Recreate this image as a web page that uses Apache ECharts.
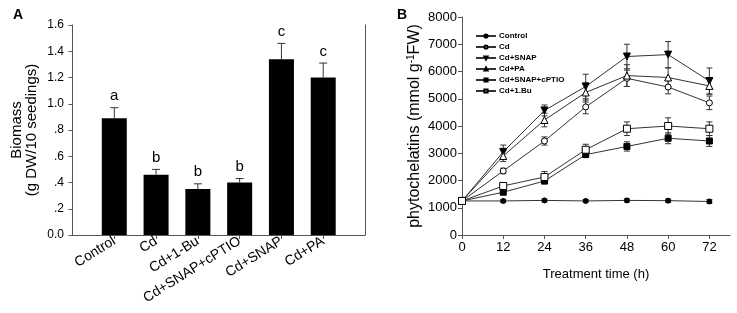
<!DOCTYPE html>
<html>
<head>
<meta charset="utf-8">
<script src="https://cdn.jsdelivr.net/npm/echarts@6/dist/echarts.min.js"></script>
<style>
  html, body { margin: 0; padding: 0; background: #fff; }
  #main { width: 737px; height: 313px; }
</style>
</head>
<body>
<div id="main"></div>
<script>
// Panel A - biomass
const treatments = ['Control', 'Cd', 'Cd+1-Bu', 'Cd+SNAP+cPTIO', 'Cd+SNAP', 'Cd+PA'];
const biomass = [0.89, 0.46, 0.35, 0.40, 1.34, 1.20];
const biomassErr = [0.08, 0.04, 0.04, 0.03, 0.12, 0.11];
const sigLetters = ['a', 'b', 'b', 'b', 'c', 'c'];

// Panel B - phytochelatins over time
const timesB = [0, 12, 24, 36, 48, 60, 72];
const pcControl = [1250, 1250, 1270, 1250, 1270, 1260, 1230];
const pcControlErr = [40, 50, 50, 50, 60, 60, 70];
const pcCd = [1250, 2350, 3450, 4700, 5750, 5430, 4850];
const pcCdErr = [40, 100, 150, 250, 300, 250, 250];
const pcSnap = [1250, 3050, 4570, 5450, 6550, 6620, 5650];
const pcSnapErr = [40, 250, 200, 450, 450, 480, 480];
const pcPa = [1250, 2900, 4220, 5230, 5850, 5780, 5470];
const pcPaErr = [40, 200, 250, 350, 400, 350, 300];
const pcCptio = [1250, 1570, 1980, 2950, 3250, 3550, 3450];
const pcCptioErr = [40, 80, 100, 100, 170, 200, 200];
const pcBu = [1250, 1800, 2130, 3130, 3900, 4000, 3900];
const pcBuErr = [40, 80, 200, 200, 250, 300, 250];

const FONT = 'Liberation Sans, Arial, sans-serif';
const AXIS = '#555';

const chart = echarts.init(document.getElementById('main'));

function fmtA(v) {
  if (v === 0) return '0.0';
  const s = v.toFixed(1);
  return v < 1 ? s.replace(/^0/, '') : s;
}

// error bar drawn as custom series, both = caps top and bottom
function errorSeries(xIdx, yIdx, xs, ys, errs, capW, both) {
  return {
    type: 'custom',
    xAxisIndex: xIdx,
    yAxisIndex: yIdx,
    z: 3,
    silent: true,
    data: xs.map((x, i) => [x, ys[i], errs[i]]),
    renderItem: function (params, api) {
      const x = api.value(0), y = api.value(1), e = api.value(2);
      const top = api.coord([x, y + e]);
      const bot = api.coord([x, both ? y - e : y]);
      const st = { stroke: '#333', lineWidth: 1 };
      const kids = [
        { type: 'line', shape: { x1: top[0], y1: top[1], x2: bot[0], y2: bot[1] }, style: st },
        { type: 'line', shape: { x1: top[0] - capW, y1: top[1], x2: top[0] + capW, y2: top[1] }, style: st }
      ];
      if (both) {
        kids.push({ type: 'line', shape: { x1: bot[0] - capW, y1: bot[1], x2: bot[0] + capW, y2: bot[1] }, style: st });
      }
      return { type: 'group', children: kids };
    }
  };
}

function lineSeries(name, vals, symbol, size, filled, rotate) {
  return {
    name: name,
    type: 'line',
    xAxisIndex: 1,
    yAxisIndex: 2,
    z: 4,
    data: timesB.map((t, i) => [t, vals[i]]),
    symbol: symbol,
    symbolSize: size,
    symbolRotate: rotate || 0,
    showAllSymbol: true,
    lineStyle: { color: '#333', width: 1 },
    itemStyle: filled
      ? { color: '#000', borderColor: '#000', borderWidth: 1 }
      : { color: '#fff', borderColor: '#000', borderWidth: 1 },
    emphasis: { disabled: true }
  };
}

const barXs = treatments.map((_, i) => i + 1);

const option = {
  animation: false,
  backgroundColor: '#fff',
  textStyle: { fontFamily: FONT, color: '#000' },
  title: [
    { text: 'A', left: 8, top: 3, textStyle: { fontFamily: FONT, fontSize: 14, fontWeight: 'bold', color: '#000' } },
    { text: 'B', left: 392, top: 3, textStyle: { fontFamily: FONT, fontSize: 14, fontWeight: 'bold', color: '#000' } }
  ],
  grid: [
    { left: 70, top: 25, width: 295, height: 210 },
    { left: 462, top: 17, width: 268, height: 218 }
  ],
  legend: {
    orient: 'vertical',
    left: 470,
    top: 27,
    itemWidth: 20,
    itemHeight: 4,
    itemGap: 3,
    padding: [5, 6, 8, 5],
    backgroundColor: '#fff',
    data: ['Control', 'Cd', 'Cd+SNAP', 'Cd+PA', 'Cd+SNAP+cPTIO', 'Cd+1.Bu'],
    textStyle: { fontFamily: FONT, fontSize: 8, fontWeight: 'bold', color: '#000', lineHeight: 8, padding: [0, 0, 0, -2] }
  },
  xAxis: [
    {
      gridIndex: 0,
      type: 'value',
      min: -0.06,
      max: 7,
      splitLine: { show: false },
      axisLine: { lineStyle: { color: AXIS } },
      axisTick: { length: 4, lineStyle: { color: AXIS }, customValues: barXs },
      axisLabel: {
        customValues: barXs,
        rotate: 32,
        fontSize: 14,
        color: '#000',
        fontFamily: FONT,
        margin: 5,
        formatter: v => treatments[v - 1] || ''
      }
    },
    {
      gridIndex: 1,
      type: 'value',
      min: 0,
      max: 78,
      interval: 12,
      splitLine: { show: false },
      axisLine: { lineStyle: { color: AXIS } },
      axisTick: { length: 4, lineStyle: { color: AXIS }, customValues: timesB },
      axisLabel: { customValues: timesB, fontSize: 13, color: '#000', fontFamily: FONT, margin: 6 },
      name: 'Treatment time (h)',
      nameLocation: 'middle',
      nameGap: 33,
      nameTextStyle: { fontSize: 13, color: '#000', fontFamily: FONT }
    }
  ],
  yAxis: [
    {
      gridIndex: 0,
      type: 'value',
      min: 0,
      max: 1.6,
      interval: 0.2,
      splitLine: { show: false },
      axisLine: { show: true, lineStyle: { color: AXIS } },
      axisTick: { show: true, length: 4, lineStyle: { color: AXIS } },
      axisLabel: { fontSize: 12, color: '#000', fontFamily: FONT, margin: 6, formatter: fmtA },
      name: 'Biomass\n(g DW/10 seedings)',
      nameLocation: 'middle',
      nameGap: 31,
      nameTextStyle: { fontSize: 15, lineHeight: 15, color: '#000', fontFamily: FONT }
    },
    {
      gridIndex: 0,
      type: 'value',
      position: 'right',
      min: 0,
      max: 1.6,
      splitLine: { show: false },
      axisLine: { show: true, lineStyle: { color: AXIS } },
      axisTick: { show: false },
      axisLabel: { show: false }
    },
    {
      gridIndex: 1,
      type: 'value',
      min: 0,
      max: 8000,
      interval: 1000,
      splitLine: { show: false },
      axisLine: { show: true, lineStyle: { color: AXIS } },
      axisTick: { show: true, length: 4, lineStyle: { color: AXIS } },
      axisLabel: { fontSize: 13, color: '#000', fontFamily: FONT, margin: 5, formatter: v => String(v) },
      name: '{a|phytochelatins (mmol g}{s|-1}{a|FW)}',
      nameLocation: 'middle',
      nameGap: 38,
      nameTextStyle: {
        fontFamily: FONT,
        rich: {
          a: { fontSize: 16, lineHeight: 18, color: '#000', fontFamily: FONT },
          s: { fontSize: 10, lineHeight: 18, color: '#000', fontFamily: FONT, verticalAlign: 'top' }
        }
      }
    }
  ],
  series: [
    {
      type: 'bar',
      xAxisIndex: 0,
      yAxisIndex: 0,
      barWidth: 25,
      silent: true,
      data: barXs.map((x, i) => [x, biomass[i]]),
      itemStyle: { color: '#000' }
    },
    errorSeries(0, 0, barXs, biomass, biomassErr, 4, false),
    {
      type: 'custom',
      xAxisIndex: 0,
      yAxisIndex: 0,
      silent: true,
      data: barXs.map((x, i) => [x, biomass[i] + biomassErr[i], sigLetters[i]]),
      renderItem: function (params, api) {
        const p = api.coord([api.value(0), api.value(1)]);
        return {
          type: 'text',
          style: {
            x: p[0], y: p[1] - 4,
            text: sigLetters[params.dataIndex],
            textAlign: 'center', textVerticalAlign: 'bottom',
            fontSize: 15, fontFamily: FONT, fill: '#000'
          }
        };
      }
    },
    errorSeries(1, 2, timesB, pcControl, pcControlErr, 3, true),
    errorSeries(1, 2, timesB, pcCd, pcCdErr, 3, true),
    errorSeries(1, 2, timesB, pcSnap, pcSnapErr, 3, true),
    errorSeries(1, 2, timesB, pcPa, pcPaErr, 3, true),
    errorSeries(1, 2, timesB, pcCptio, pcCptioErr, 3, true),
    errorSeries(1, 2, timesB, pcBu, pcBuErr, 3, true),
    lineSeries('Control', pcControl, 'circle', 5, true),
    lineSeries('Cd', pcCd, 'circle', 6, false),
    lineSeries('Cd+SNAP', pcSnap, 'triangle', 7, true, 180),
    lineSeries('Cd+PA', pcPa, 'triangle', 7, false),
    lineSeries('Cd+SNAP+cPTIO', pcCptio, 'rect', 6, true),
    lineSeries('Cd+1.Bu', pcBu, 'rect', 7, false)
  ]
};

chart.setOption(option);
</script>
</body>
</html>
